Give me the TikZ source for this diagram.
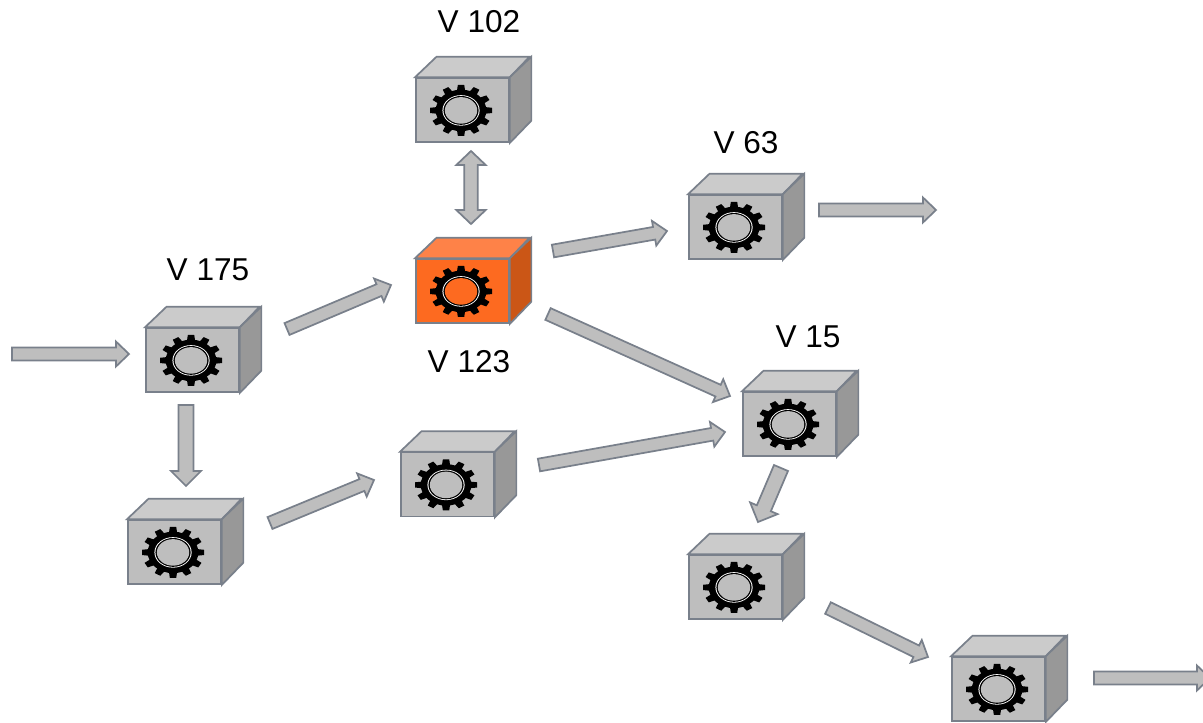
\documentclass[tikz,border=0pt]{standalone}
\usepackage{fontspec}
\setmainfont{Liberation Sans}
\usetikzlibrary{calc}
\definecolor{edgeslate}{HTML}{79808B}
\definecolor{facegray}{HTML}{BEBEBE}
\definecolor{topgray}{HTML}{CBCBCB}
\definecolor{sidegray}{HTML}{989898}
\definecolor{faceorange}{HTML}{FD6A20}
\definecolor{toporange}{HTML}{FE8248}
\definecolor{sideorange}{HTML}{CB5616}
\newcommand{\sw}{4.8pt}
\newcommand{\hw}{9.4pt}
\newcommand{\hl}{9.8pt}
\tikzset{
  edgeline/.style={draw=edgeslate,line width=1.3pt,line join=miter},
  grayfront/.style={edgeline,fill=facegray},
  graytop/.style={edgeline,fill=topgray},
  grayside/.style={edgeline,fill=sidegray},
  grayhole/.style={fill=facegray},
  orangefront/.style={edgeline,fill=faceorange},
  orangetop/.style={edgeline,fill=toporange},
  orangeside/.style={edgeline,fill=sideorange},
  orangehole/.style={fill=faceorange},
  boxfront/.style={rectangle,minimum width=69.75pt,minimum height=48pt,inner sep=0pt},
  vlabel/.style={font=\fontsize{23.7}{27}\selectfont,text=black,inner sep=0pt},
  blockarrow/.style={edgeline,fill=facegray,to path={
    ($(\tikztostart)!\sw!90:(\tikztotarget)$)
    -- ($($(\tikztotarget)!\hl!(\tikztostart)$)!\sw!90:(\tikztotarget)$)
    -- ($($(\tikztotarget)!\hl!(\tikztostart)$)!\hw!90:(\tikztotarget)$)
    -- (\tikztotarget)
    -- ($($(\tikztotarget)!\hl!(\tikztostart)$)!\hw!-90:(\tikztotarget)$)
    -- ($($(\tikztotarget)!\hl!(\tikztostart)$)!\sw!-90:(\tikztotarget)$)
    -- ($(\tikztostart)!\sw!-90:(\tikztotarget)$)
    -- cycle}},
  bigarrow/.style={/utils/exec={\renewcommand{\sw}{5.7pt}\renewcommand{\hw}{11.2pt}\renewcommand{\hl}{11.2pt}},blockarrow},
  twowayarrow/.style={edgeline,fill=facegray,to path={
    (\tikztostart)
    -- ($($(\tikztostart)!10.5pt!(\tikztotarget)$)!11pt!-90:(\tikztotarget)$)
    -- ($($(\tikztostart)!10.5pt!(\tikztotarget)$)!5pt!-90:(\tikztotarget)$)
    -- ($($(\tikztotarget)!10.5pt!(\tikztostart)$)!5pt!-90:(\tikztotarget)$)
    -- ($($(\tikztotarget)!10.5pt!(\tikztostart)$)!11pt!-90:(\tikztotarget)$)
    -- (\tikztotarget)
    -- ($($(\tikztotarget)!10.5pt!(\tikztostart)$)!11pt!90:(\tikztotarget)$)
    -- ($($(\tikztotarget)!10.5pt!(\tikztostart)$)!5pt!90:(\tikztotarget)$)
    -- ($($(\tikztostart)!10.5pt!(\tikztotarget)$)!5pt!90:(\tikztotarget)$)
    -- ($($(\tikztostart)!10.5pt!(\tikztotarget)$)!11pt!90:(\tikztotarget)$)
    -- cycle}},
}
% #1 colour prefix, #2 node name, #3 centre of the front face
\newcommand{\gearbox}[3]{%
  \node[boxfront,#1front] (#2) at (#3) {};
  \path[#1top] (#2.north west) -- ++(21.5,-20.5) -- ++(93,0) -- (#2.north east) -- cycle;
  \path[#1side] (#2.north east) -- ++(21.5,-20.5) -- ++(0,64) -- (#2.south east) -- cycle;
  \begin{scope}[shift={(#2.center)},xshift=-1.1pt,yshift=-0.3pt,yscale=0.82]
    \fill[black] (0,0) circle (25.3);
    \foreach \a in {0,30,...,330}
      \fill[black,rotate=\a] (-4.2,23) -- (-3.2,31) -- (3.2,31) -- (4.2,23) -- cycle;
    \fill[white] (0,0) circle (18.6);
    \fill[black] (0,0) circle (17.6);
    \fill[#1hole] (0,0) circle (16.2);
  \end{scope}}
\begin{document}
\begin{tikzpicture}[x=0.75pt,y=-0.75pt]
  \path[use as bounding box,clip] (0,0) rectangle (1203,722);
  \gearbox{gray}{v102}{462.5,110}
  \gearbox{orange}{v123}{462.5,291}
  \gearbox{gray}{v63}{735.5,227}
  \gearbox{gray}{v175}{192.5,360}
  \gearbox{gray}{lowleft}{174.5,552}
  \gearbox{gray}{lowmid}{447.5,484.5}
  \gearbox{gray}{v15}{789.5,424}
  \gearbox{gray}{below}{735.5,587}
  \gearbox{gray}{last}{998.5,689}
  \node[vlabel] (l102) at (479,21.7) {V 102};
  \node[vlabel] (l63) at (746,142.7) {V 63};
  \node[vlabel] (l175) at (208,269.7) {V 175};
  \node[vlabel] (l123) at (469,361.7) {V 123};
  \node[vlabel] (l15) at (808,336.7) {V 15};
  \coordinate (entry) at (12,354);
  \coordinate (exit63) at (936,210);
  \coordinate (exitlast) at (1210,678);
  \draw[blockarrow] (entry) to ([shift={(-63.5,-6)}]v175.center);
  \draw[blockarrow] ([shift={(94.5,-31)}]v175.center) to ([shift={(-71.5,-6)}]v123.center);
  \draw[bigarrow] ([shift={(-6.5,45)}]v175.center) to ([shift={(11.5,-66)}]lowleft.center);
  \draw[blockarrow] ([shift={(95.5,-29)}]lowleft.center) to ([shift={(-73.5,-4.5)}]lowmid.center);
  \draw[blockarrow] ([shift={(91.5,-19.5)}]lowmid.center) to ([shift={(-64.5,8)}]v15.center);
  \draw[blockarrow] ([shift={(90.5,-40)}]v123.center) to ([shift={(-68.5,4)}]v63.center);
  \draw[blockarrow] ([shift={(83.5,-17)}]v63.center) to (exit63);
  \draw[blockarrow] ([shift={(85.5,23)}]v123.center) to ([shift={(-59.5,-28)}]v15.center);
  \draw[bigarrow] ([shift={(-8.5,44)}]v15.center) to ([shift={(22.5,-65)}]below.center);
  \draw[blockarrow] ([shift={(92.5,21)}]below.center) to ([shift={(-70.5,-32)}]last.center);
  \draw[blockarrow] ([shift={(95.5,-11)}]last.center) to (exitlast);
  \draw[twowayarrow] ([shift={(8.5,41)}]v102.center) to ([shift={(8.5,-67)}]v123.center);
\end{tikzpicture}
\end{document}
